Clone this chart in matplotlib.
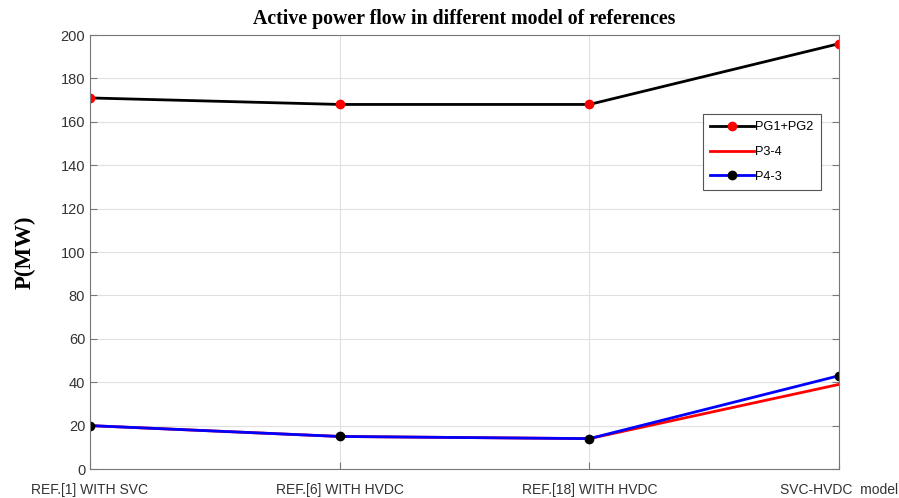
import matplotlib.pyplot as plt

# Data
categories = ["REF.[1] WITH SVC", "REF.[6] WITH HVDC", "REF.[18] WITH HVDC", "SVC-HVDC  model"]
pg1_pg2 = [171, 168, 168, 196]
p3_4 = [20, 15, 14, 39]
p4_3 = [20, 15, 14, 43]

x = range(len(categories))

fig = plt.figure(figsize=(8.99, 4.98), dpi=100)
ax = fig.add_axes([0.1001, 0.0582, 0.8332, 0.8715])

ax.plot(x, pg1_pg2, color="black", lw=2, marker="o", ms=6,
        mfc="red", mec="red", label="PG1+PG2")
ax.plot(x, p3_4, color="red", lw=2, label="P3-4")
ax.plot(x, p4_3, color="blue", lw=2, marker="o", ms=6,
        mfc="black", mec="black", label="P4-3")

ax.set_xlim(0, 3)
ax.set_ylim(0, 200)
ax.set_yticks(range(0, 201, 20))
ax.set_xticks(list(x))
ax.set_xticklabels(categories)
ax.grid(True, color="#e0e0e0", lw=0.8)
ax.set_axisbelow(True)

for s in ax.spines.values():
    s.set_color("#777777")
ax.tick_params(direction="in", top=False, right=True, colors="#777777",
               labelcolor="#333333", labelsize=10.5, length=5)
ax.tick_params(axis="x", labelsize=10, pad=10)
for lab in ax.get_xticklabels() + ax.get_yticklabels():
    lab.set_family("Liberation Sans")

ax.set_title("Active power flow in different model of references",
             family="Liberation Serif", weight="bold", fontsize=14.3, pad=8)
ax.set_ylabel("P(MW)", family="Liberation Serif", weight="bold", fontsize=16.5)
ax.yaxis.set_label_coords(-0.072, 0.5)

leg = ax.legend(loc="upper left", bbox_to_anchor=(0.81, 0.832), fancybox=False,
                edgecolor="#555555", framealpha=1, handlelength=3.4,
                prop={"family": "Liberation Sans", "size": 9.2},
                borderpad=0.55, labelspacing=1.0, handletextpad=0.15)
leg.get_frame().set_linewidth(0.8)

fig.savefig("out.png", dpi=100)
